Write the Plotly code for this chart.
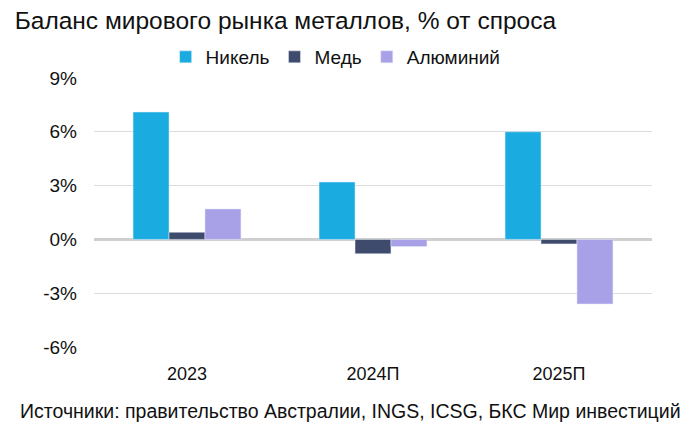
import plotly.graph_objects as go

categories = ["2023", "2024П", "2025П"]
nickel = [7.1, 3.2, 6.0]
copper = [0.4, -0.8, -0.25]
aluminium = [1.7, -0.4, -3.6]
tick_vals = [-6, -3, 0, 3, 6, 9]
tick_text = ["-6%", "-3%", "0%", "3%", "6%", "9%"]

FONT = "Liberation Sans, Arial"

fig = go.Figure()
fig.add_trace(go.Bar(name="Никель", x=categories, y=nickel, marker_color="#1AABE0"))
fig.add_trace(go.Bar(name="Медь", x=categories, y=copper, marker_color="#3F4B6C"))
fig.add_trace(go.Bar(name="Алюминий", x=categories, y=aluminium, marker_color="#A9A1E8"))

fig.update_layout(
    width=700, height=436,
    paper_bgcolor="white", plot_bgcolor="white",
    margin=dict(l=94, r=48, t=78, b=89),
    barmode="group", bargap=0.42, bargroupgap=0,
    font=dict(family=FONT, color="#111111", size=18),
    title=dict(text="Баланс мирового рынка металлов, % от спроса",
               x=0.021, xanchor="left", y=0.953, yanchor="middle",
               font=dict(family=FONT, size=24.5, color="#111111")),
    legend=dict(orientation="h", x=0.433, xanchor="center", y=1.078, yanchor="middle",
                font=dict(size=19, color="#111111"), itemwidth=30,
                traceorder="normal"),
    xaxis=dict(showgrid=False, showline=False, ticks="", tickfont=dict(size=18),
               ticklabelstandoff=14),
    yaxis=dict(range=[-6, 9], tickvals=tick_vals, ticktext=tick_text,
               showgrid=True, gridcolor="#dcdcdc", gridwidth=1,
               zeroline=True, zerolinecolor="#cfcfcf", zerolinewidth=2.5,
               tickfont=dict(size=19), ticklabelstandoff=16),
    annotations=[dict(text="Источники: правительство Австралии, INGS, ICSG, БКС Мир инвестиций",
                      xref="paper", yref="paper", x=-0.137, xanchor="left",
                      y=-0.238, yanchor="middle", showarrow=False,
                      font=dict(family=FONT, size=19.5, color="#111111"))],
)

fig.write_html("out.html")
